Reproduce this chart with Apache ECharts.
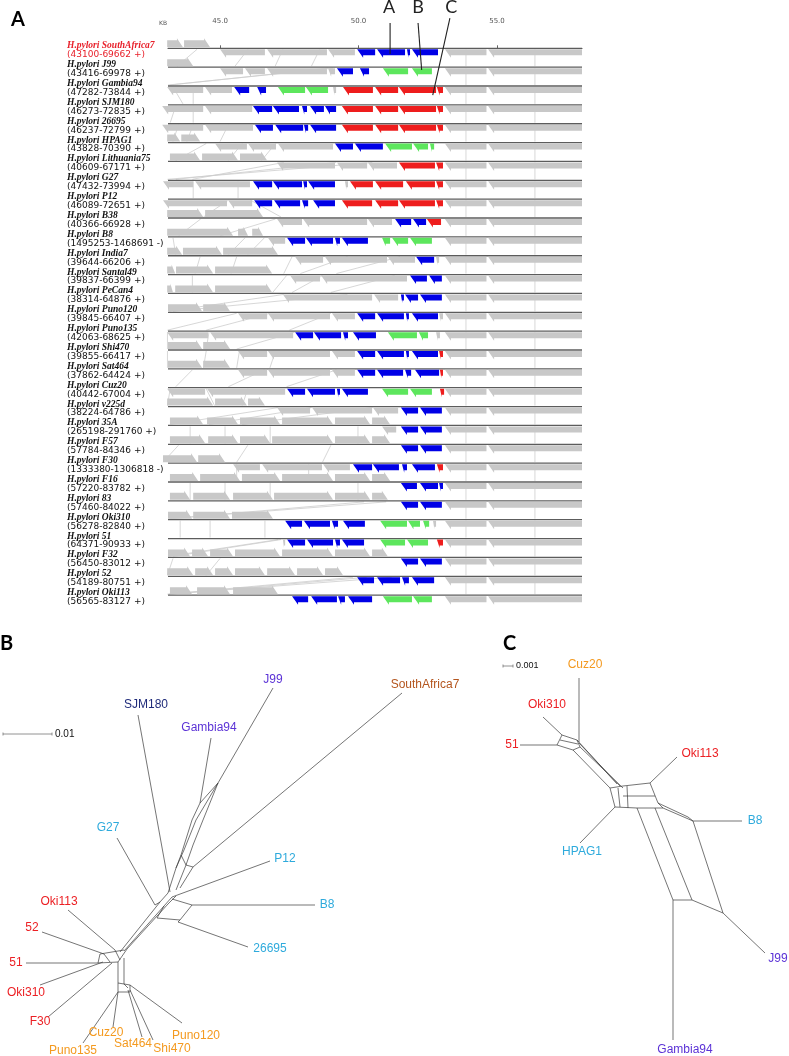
<!DOCTYPE html>
<html><head><meta charset="utf-8">
<script src="https://cdn.jsdelivr.net/npm/echarts@6/dist/echarts.min.js"></script>
<style>html,body{margin:0;padding:0;background:#fff}#c{width:789px;height:1056px}</style>
</head><body><div id="c"></div>
<script>
// ---------- Panel A data (positions in KB) ----------
const trackNames = ['SouthAfrica7','J99','Gambia94','SJM180','26695','HPAG1','Lithuania75','G27','P12','B38','B8','India7','Santal49','PeCan4','Puno120','Puno135','Shi470','Sat464','Cuz20','v225d','35A','F57','F30','F16','83','Oki310','51','F32','52','Oki113'];
const trackRanges = ['43100-69662 +','43416-69978 +','47282-73844 +','46273-72835 +','46237-72799 +','43828-70390 +','40609-67171 +','47432-73994 +','46089-72651 +','40366-66928 +','1495253-1468691 -','39644-66206 +','39837-66399 +','38314-64876 +','39845-66407 +','42063-68625 +','39855-66417 +','37862-64424 +','40442-67004 +','38224-64786 +','265198-291760 +','57784-84346 +','1333380-1306818 -','57220-83782 +','57460-84022 +','56278-82840 +','64371-90933 +','56450-83012 +','54189-80751 +','56565-83127 +'];
const tickValues = [45, 50, 55];
const kbRange = [43.12, 58.07];
const axisTitle = 'KB';

const grayAbove = [
 [[43.09,43.66],[43.70,44.64]],
 [[43.09,44.03]],
 [], [], [],
 [[43.09,43.56],[43.60,44.28]],
 [[43.19,44.28],[44.35,45.65],[45.72,46.70]],
 [], [],
 [[43.09,44.39],[44.46,46.55]],
 [[43.09,45.47],[45.65,46.01],[46.16,46.55]],
 [[43.09,43.63],[43.66,45.07],[45.11,47.09]],
 [[43.09,43.38],[43.41,44.75],[44.82,46.88]],
 [[43.09,43.30],[43.38,44.75],[44.82,46.88]],
 [[43.12,44.35],[44.39,45.36]],
 [],
 [[43.12,44.35],[44.39,45.36]],
 [[43.12,44.35],[44.39,45.36]],
 [],
 [[43.09,44.75],[44.82,45.97],[46.01,46.62]],
 [[43.19,44.39],[44.53,45.65],[45.72,47.17],[47.24,49.08],[49.15,50.42],[50.49,51.14]],
 [[43.19,44.46],[44.57,45.65],[45.72,46.81],[46.88,49.08],[49.15,50.42],[50.49,51.14]],
 [[42.94,44.17],[44.21,45.18]],
 [[43.19,44.21],[44.28,45.72],[45.79,47.17],[47.24,49.08],[49.15,50.42],[50.49,51.14]],
 [[43.19,43.92],[44.03,45.36],[45.47,46.91],[46.95,49.08],[49.15,50.42],[50.49,51.06]],
 [[43.12,43.99],[44.03,45.36],[45.43,46.91]],
 [],
 [[43.12,43.92],[43.99,44.57],[44.64,45.47],[45.54,47.17],[47.24,49.08],[49.15,50.42],[50.49,51.06]],
 [[43.09,44.03],[44.10,44.75],[44.82,45.47],[45.54,46.62],[46.70,47.71],[47.78,48.72],[48.79,49.44]],
 [[43.19,43.99],[44.17,45.36],[45.47,47.09]]
];
const grayBelow = [
 [[45.00,46.62],[46.70,48.86],[48.90,49.87]],
 [[45.00,45.83],[45.90,46.62],[46.70,48.86],[48.90,49.15]],
 [[43.09,44.39],[44.46,45.43],[49.08,49.19]],
 [[42.91,44.39],[44.46,46.16]],
 [[42.91,44.39],[44.46,46.19]],
 [[44.82,45.97],[46.01,47.02],[47.09,49.08]],
 [[47.06,49.15],[49.22,50.31],[50.34,51.39]],
 [[42.94,44.03],[44.10,46.08],[49.51,49.62]],
 [[42.94,45.25],[45.29,46.16]],
 [[47.06,47.96],[48.00,50.31],[50.34,51.21]],
 [[46.73,47.35]],
 [[47.71,48.72],[48.79,51.03],[51.06,52.04],[52.80,52.91]],
 [[47.53,48.61],[48.65,51.75]],
 [[47.27,50.49],[50.56,51.43]],
 [[45.65,46.70],[46.73,48.97],[49.04,49.87],[52.91,53.05]],
 [[43.09,44.57],[44.64,47.64],[52.80,52.94]],
 [[45.65,46.70],[46.73,48.97],[49.04,49.87]],
 [[45.65,46.70],[46.73,48.97],[49.04,49.87]],
 [[43.09,44.46],[44.53,47.35]],
 [[47.06,48.25],[48.32,50.49],[50.52,51.43]],
 [[50.85,51.36]],
 [],
 [[45.47,46.44],[46.52,48.68],[48.72,49.69]],
 [], [],
 [[52.69,52.80]],
 [[47.27,47.35]],
 [], [], []
];
const sharedRight = [[53.12,54.62],[54.68,58.07]];
const blueGenes = [
 [[49.95,50.60],[50.67,51.68],[51.75,51.86],[51.93,52.87]],
 [[49.22,49.80],[50.05,50.38]],
 [[45.51,46.05],[46.34,46.66]],
 [[46.19,46.88],[46.91,47.85],[47.96,48.14],[48.25,48.75],[48.79,49.19]],
 [[46.26,46.91],[46.99,48.00],[48.03,48.18],[48.25,49.19]],
 [[49.15,49.80],[49.87,50.88]],
 [],
 [[46.19,46.88],[46.91,47.96],[48.00,48.14],[48.18,49.15]],
 [[46.23,46.88],[46.95,47.89],[47.96,48.18],[48.36,49.15]],
 [[51.32,51.90],[51.97,52.44]],
 [[47.42,48.07],[48.10,49.08],[49.15,49.33],[49.40,50.34]],
 [[52.08,52.73]],
 [[51.86,52.47],[52.55,53.01]],
 [[51.53,51.64],[51.68,52.15],[52.22,53.01]],
 [[49.95,50.60],[50.67,51.64],[51.71,51.82],[51.93,52.87]],
 [[47.71,48.36],[48.39,49.37],[49.44,49.62],[49.80,50.63]],
 [[49.95,50.60],[50.67,51.64],[51.71,51.82],[51.93,52.87]],
 [[49.95,50.60],[50.67,51.61],[51.68,51.90],[52.04,52.91]],
 [[47.42,48.07],[48.14,49.15],[49.22,49.33],[49.40,50.34]],
 [[51.53,52.15],[52.22,53.01]],
 [[51.53,52.15],[52.22,53.01]],
 [[51.53,52.15],[52.22,53.01]],
 [[49.80,50.49],[50.52,51.46],[51.57,51.75],[51.93,52.76]],
 [[51.53,52.11],[52.22,52.87],[52.91,53.05]],
 [[51.53,52.15],[52.22,53.01]],
 [[47.35,47.96],[48.03,48.97],[49.04,49.26],[49.44,50.23]],
 [[47.42,48.07],[48.14,49.08],[49.15,49.33],[49.40,50.20]],
 [[51.53,52.15],[52.22,53.01]],
 [[49.95,50.56],[50.67,51.50],[51.57,51.82],[51.93,52.73]],
 [[47.60,48.18],[48.29,49.22],[49.26,49.51],[49.62,50.49]]
];
const greenGenes = [
 [],
 [[50.88,51.79],[51.93,52.65]],
 [[47.09,48.07],[48.10,48.90]],
 [], [],
 [[50.96,51.93],[51.97,52.51],[52.58,52.73]],
 [], [], [], [],
 [[50.85,51.14],[51.21,51.79],[51.86,52.65]],
 [], [], [], [],
 [[51.06,52.11],[52.18,52.51]],
 [], [],
 [[50.85,51.79],[51.86,52.65]],
 [], [], [], [], [], [],
 [[50.78,51.75],[51.79,52.22],[52.33,52.55]],
 [[50.78,51.68],[51.75,52.51]],
 [], [],
 [[50.88,51.93],[51.97,52.65]]
];
const redGenes = [
 [], [],
 [[49.44,50.52],[50.60,51.43],[51.46,52.80],[52.83,53.05]],
 [[49.40,50.52],[50.60,51.43],[51.46,52.80],[52.83,53.05]],
 [[49.40,50.52],[50.60,51.43],[51.46,52.80],[52.83,53.05]],
 [],
 [[51.46,52.76],[52.80,53.05]],
 [[49.69,50.52],[50.60,51.61],[51.71,52.76],[52.80,53.05]],
 [[49.40,50.49],[50.60,51.43],[51.46,52.76],[52.80,53.05]],
 [[52.47,52.98]],
 [], [], [], [], [], [],
 [[52.91,53.05]],
 [[52.94,53.05]],
 [[52.94,53.09]],
 [], [], [],
 [[52.83,53.05]],
 [], [], [],
 [[52.83,53.05]],
 [], [], []
];
// homology links between neighbouring tracks: [kb on upper track, kb on lower track]
const gapLinks = [
 [[44.17,43.45],[46.01,45.54],[47.27,46.99],[48.6,48.3]],
 [[49.08,43.12],[48.90,43.20]],
 [[43.30,43.66],[44.03,44.03]],
 [[44.03,44.03],[43.4,43.2]],
 [[43.5,43.3],[44.03,43.8],[45.3,45.0]],
 [[44.5,43.4],[45.8,45.3],[47.0,46.5]],
 [[50.5,43.1],[49.2,43.4],[47.3,44.0]],
 [[44.03,44.03],[45.65,45.65]],
 [[45.3,44.4],[46.1,47.2]],
 [[44.3,43.5],[47.0,45.0]],
 [[43.3,43.4],[45.9,45.3],[46.6,46.0]],
 [[44.28,44.10],[45.60,45.40],[47.60,47.30],[49.60,47.90],[51.50,49.20]],
 [[44.0,44.0],[47.4,46.9],[48.7,47.6],[51.3,49.0]],
 [[47.3,43.15],[49.6,43.3]],
 [[45.6,43.1],[46.8,44.5],[49.0,47.5]],
 [[43.1,43.1],[44.6,44.5],[47.7,45.6]],
 [[43.1,43.1],[44.5,44.4],[45.7,45.6],[47.0,46.8]],
 [[44.0,43.4],[46.6,45.3],[49.2,47.4]],
 [[43.2,43.1],[44.5,44.8],[46.0,45.8]],
 [[47.1,43.2],[48.3,44.6],[50.5,45.8]],
 [[43.92,43.92],[45.18,45.18],[46.81,46.81],[49.98,49.98]],
 [[43.5,42.94],[46.0,45.6],[49.0,48.7]],
 [[45.6,45.6],[48.2,48.2]],
 [[43.92,43.92],[45.18,45.18],[46.81,46.81],[49.98,49.98]],
 [[51.0,43.15],[50.2,43.2]],
 [[43.56,43.56],[44.64,44.64],[46.62,46.62]],
 [[47.1,43.12],[47.2,43.3]],
 [[43.3,43.1],[45.0,44.5]],
 [[49.8,43.1],[50.3,43.2],[51.2,43.15]]
];
const sharedLinks = [53.88, 56.37];
// callouts A/B/C: [kb, track position]
const annotLetters = ['A','B','C'];
const annotTop = [[51.14,-1.34],[52.15,-1.34],[53.30,-1.60]];
const annotTip = [[51.14,0.30],[52.28,1.15],[52.68,2.48]];
const annotLetterPos = [[51.10,-2.19],[52.15,-2.19],[53.35,-2.19]];

// ---------- Panel B data (network layout units) ----------
const bLeafNames = ['J99','SJM180','Gambia94','SouthAfrica7','G27','P12','B8','26695','Oki113','52','51','Oki310','F30','Puno135','Cuz20','Sat464','Shi470','Puno120'];
const bLeafGroups = ['purple','navy','purple','brown','cyan','cyan','cyan','cyan','red','red','red','red','red','orange','orange','orange','orange','orange'];
const bLabelPos = [[273,80],[146,105],[209,128],[425,85],[108,228],[285,259],[327,305],[270,349],[59,302],[32,328],[16,363],[26,393],[40,422],[73,451],[106,433],[133,444],[172,449],[196,436]];
const bEdges = [
 [[273,88],[218,183],[196,220],[184,250],[176,268]],
 [[211,138],[200,203],[192,220],[181,255]],
 [[200,203],[218,183]],
 [[218,183],[203,220],[193,245],[186,265]],
 [[138,115],[167,275],[170,292]],
 [[402,93],[193,267],[180,288]],
 [[176,268],[168,293]],
 [[181,255],[176,268]],
 [[186,265],[193,267]],
 [[181,255],[186,265]],
 [[186,265],[176,290]],
 [[168,293],[160,302],[120,352]],
 [[172,297],[164,306],[124,351]],
 [[176,296],[168,304],[127,349]],
 [[117,238],[155,305],[160,302]],
 [[270,261],[172,297]],
 [[315,305],[192,305],[172,299]],
 [[192,305],[180,320],[157,318],[164,306]],
 [[248,347],[178,322],[180,320]],
 [[68,310],[115,350]],
 [[42,332],[104,354]],
 [[26,363],[98,363]],
 [[40,385],[103,362]],
 [[48,417],[112,363]],
 [[98,363],[100,354],[124,350]],
 [[98,363],[118,362],[127,349]],
 [[104,354],[110,362]],
 [[115,350],[120,360]],
 [[118,362],[118,383],[118,392]],
 [[124,358],[124,384]],
 [[118,383],[130,385],[130,392],[118,392]],
 [[124,384],[128,388]],
 [[83,443],[118,392]],
 [[113,427],[118,392]],
 [[142,437],[128,390]],
 [[153,440],[130,390]],
 [[182,423],[130,385]]
];
const bScaleBar = [[3,134],[52,134]];
const bScaleText = '0.01';

// ---------- Panel C data ----------
const cLeafNames = ['Cuz20','Oki310','51','Oki113','B8','HPAG1','J99','Gambia94'];
const cLeafGroups = ['orange','red','red','red','cyan','cyan','purple','purple'];
const cLabelPos = [[95,65],[57,105],[22,145],[210,154],[265,221],[92,252],[288,359],[195,450]];
const cEdges = [
 [[89,78],[89,142]],
 [[53,117],[72,135]],
 [[30,145],[67,145]],
 [[72,135],[87,140],[90,147],[83,150],[67,145],[72,135]],
 [[70,140],[88,144]],
 [[87,140],[127,184]],
 [[89,143],[130,186]],
 [[90,147],[133,188]],
 [[83,150],[120,188]],
 [[90,243],[125,207]],
 [[120,188],[133,186],[160,183],[168,203],[173,208],[147,208],[125,207],[120,188]],
 [[128,188],[130,207]],
 [[137,186],[138,208]],
 [[133,196],[165,196]],
 [[187,157],[160,183]],
 [[252,221],[203,221]],
 [[173,208],[203,221]],
 [[168,203],[198,217]],
 [[147,208],[183,300]],
 [[165,208],[202,300]],
 [[198,217],[203,221],[233,313]],
 [[183,300],[202,300],[233,313]],
 [[183,300],[183,440]],
 [[233,313],[275,353]]
];
const cScaleBar = [[13,66],[23,66]];
const cScaleText = '0.001';

const groupColors = {purple:'#5b32d6', navy:'#1f2b7a', brown:'#b4561f', cyan:'#2eaadc', red:'#ec2024', orange:'#f49a20'};
const geneColors = {gray:'#c8c8c8', blue:'#0000e6', green:'#5de65d', red:'#ee1d1d'};

// ---------- drawing helpers ----------
function belowPts(x1, x2, y) {
  const d = Math.min(6, (x2 - x1) * 0.45);
  const t = y + 1, b = y + 7;
  return [[x1, t], [x2, t], [x2, b], [x1 + d, b], [x1 + d, b + 2.5]];
}
function abovePts(x1, x2, y) {
  const d = Math.min(6, (x2 - x1) * 0.45);
  const t = y - 8, b = y - 1;
  return [[x1, t], [x2 - d, t], [x2 - d, t - 2], [x2, b], [x1, b]];
}

function renderTrack(params, api) {
  const i = params.dataIndex;
  const p0 = api.coord([kbRange[0], i]);
  const yb = p0[1], xL = p0[0];
  const xR = api.coord([kbRange[1], i])[0];
  const X = v => api.coord([v, i])[0];
  const ch = [];
  ch.push({type: 'line', shape: {x1: xL, y1: yb, x2: xR, y2: yb}, style: {stroke: '#5c5c5c', lineWidth: 1.3}});
  grayAbove[i].forEach(([s, e]) => ch.push({type: 'polygon', shape: {points: abovePts(X(s), X(e), yb)}, style: {fill: geneColors.gray}}));
  grayBelow[i].concat(sharedRight).forEach(([s, e]) => ch.push({type: 'polygon', shape: {points: belowPts(X(s), X(e), yb)}, style: {fill: geneColors.gray}}));
  blueGenes[i].forEach(([s, e]) => ch.push({type: 'polygon', shape: {points: belowPts(X(s), X(e), yb)}, style: {fill: geneColors.blue}}));
  greenGenes[i].forEach(([s, e]) => ch.push({type: 'polygon', shape: {points: belowPts(X(s), X(e), yb)}, style: {fill: geneColors.green}}));
  redGenes[i].forEach(([s, e]) => ch.push({type: 'polygon', shape: {points: belowPts(X(s), X(e), yb)}, style: {fill: geneColors.red}}));
  const lc = i === 0 ? '#e8202a' : '#111';
  ch.push({type: 'text', style: {text: 'H.pylori ' + trackNames[i], x: xL - 101, y: yb - 2.5, font: 'italic bold 9.5px "Liberation Serif"', fill: lc, align: 'left', verticalAlign: 'middle'}});
  ch.push({type: 'text', style: {text: '(' + trackRanges[i] + ')', x: xL - 101, y: yb + 6.5, font: '9px "DejaVu Sans"', fill: lc, align: 'left', verticalAlign: 'middle'}});
  if (i === 0) {
    const top = api.coord([kbRange[0], -1.13]);
    ch.push({type: 'text', style: {text: axisTitle, x: top[0] - 1, y: top[1] - 1, font: '6px "DejaVu Sans"', fill: '#555', align: 'right', verticalAlign: 'bottom'}});
  }
  return {type: 'group', children: ch};
}

function renderLinks(params, api) {
  const g = params.dataIndex;
  const ch = [];
  const links = gapLinks[g].concat(sharedLinks.map(v => [v, v]));
  links.forEach(([a, b]) => {
    const p1 = api.coord([a, g]), p2 = api.coord([b, g + 1]);
    ch.push({type: 'line', shape: {x1: p1[0], y1: p1[1] + 1, x2: p2[0], y2: p2[1] - 1}, style: {stroke: '#cdcdcd', lineWidth: 0.8}});
  });
  return {type: 'group', children: ch};
}

function renderAnnot(params, api) {
  const k = params.dataIndex;
  const a = api.coord(annotTop[k]), b = api.coord(annotTip[k]), t = api.coord(annotLetterPos[k]);
  return {type: 'group', children: [
    {type: 'line', shape: {x1: a[0], y1: a[1], x2: b[0], y2: b[1]}, style: {stroke: '#222', lineWidth: 1.1}},
    {type: 'text', style: {text: annotLetters[k], x: t[0], y: t[1], font: '18px Lato', fill: '#222', align: 'center', verticalAlign: 'middle'}}
  ]};
}

function edgeRenderer(edges) {
  return function (params, api) {
    const pts = edges[params.dataIndex].map(p => api.coord(p));
    return {type: 'polyline', shape: {points: pts}, style: {stroke: '#3a3a3a', lineWidth: 0.7, fill: null}};
  };
}
function labelRenderer(names, groups, pos) {
  return function (params, api) {
    const k = params.dataIndex;
    const p = api.coord(pos[k]);
    return {type: 'text', style: {text: names[k], x: p[0], y: p[1], font: '12px "Liberation Sans"', fill: groupColors[groups[k]], align: 'center', verticalAlign: 'middle'}};
  };
}
function scaleRenderer(bar, txt, fs) {
  return function (params, api) {
    const a = api.coord(bar[0]), b = api.coord(bar[1]);
    return {type: 'group', children: [
      {type: 'line', shape: {x1: a[0], y1: a[1], x2: b[0], y2: b[1]}, style: {stroke: '#777', lineWidth: 0.8}},
      {type: 'line', shape: {x1: a[0], y1: a[1] - 1.5, x2: a[0], y2: a[1] + 1.5}, style: {stroke: '#777', lineWidth: 0.8}},
      {type: 'line', shape: {x1: b[0], y1: b[1] - 1.5, x2: b[0], y2: b[1] + 1.5}, style: {stroke: '#777', lineWidth: 0.8}},
      {type: 'text', style: {text: txt, x: b[0] + 3, y: b[1], font: fs + 'px "Liberation Sans"', fill: '#111', align: 'left', verticalAlign: 'middle'}}
    ]};
  };
}

const chart = echarts.init(document.getElementById('c'));
chart.setOption({
  animation: false,
  backgroundColor: '#fff',
  grid: [
    {left: 168, top: 27, width: 414, height: 587},
    {left: 0, top: 600, width: 420, height: 456},
    {left: 490, top: 600, width: 299, height: 456}
  ],
  xAxis: [
    {gridIndex: 0, type: 'value', position: 'top', min: kbRange[0], max: kbRange[1],
     axisLine: {show: true, lineStyle: {color: '#444', width: 1}},
     axisTick: {show: true, customValues: tickValues, length: 3, lineStyle: {color: '#666'}},
     axisLabel: {show: true, customValues: tickValues, formatter: v => v.toFixed(1), fontSize: 7, color: '#555', margin: 2, fontFamily: 'DejaVu Sans'},
     splitLine: {show: false}},
    {gridIndex: 1, type: 'value', min: 0, max: 420, show: false},
    {gridIndex: 2, type: 'value', min: 0, max: 299, show: false}
  ],
  yAxis: [
    {gridIndex: 0, type: 'value', min: -1.13, max: 30, inverse: true, show: false},
    {gridIndex: 1, type: 'value', min: 0, max: 456, inverse: true, show: false},
    {gridIndex: 2, type: 'value', min: 0, max: 456, inverse: true, show: false}
  ],
  graphic: [
    {type: 'text', left: 11, top: 10, style: {text: 'A', font: 'bold 20px Lato', fill: '#000'}},
    {type: 'text', left: 0, top: 634, style: {text: 'B', font: 'bold 20px Lato', fill: '#000'}},
    {type: 'text', left: 503, top: 634, style: {text: 'C', font: 'bold 20px Lato', fill: '#000'}}
  ],
  series: [
    {type: 'custom', xAxisIndex: 0, yAxisIndex: 0, clip: false, renderItem: renderLinks, data: gapLinks.map((_, g) => [kbRange[0], g])},
    {type: 'custom', xAxisIndex: 0, yAxisIndex: 0, clip: false, renderItem: renderTrack, data: trackNames.map((_, i) => [kbRange[0], i])},
    {type: 'custom', xAxisIndex: 0, yAxisIndex: 0, clip: false, renderItem: renderAnnot, data: annotTip},
    {type: 'custom', xAxisIndex: 1, yAxisIndex: 1, clip: false, renderItem: edgeRenderer(bEdges), data: bEdges.map(e => e[0])},
    {type: 'custom', xAxisIndex: 1, yAxisIndex: 1, clip: false, renderItem: labelRenderer(bLeafNames, bLeafGroups, bLabelPos), data: bLabelPos},
    {type: 'custom', xAxisIndex: 1, yAxisIndex: 1, clip: false, renderItem: scaleRenderer(bScaleBar, bScaleText, 10), data: [bScaleBar[0]]},
    {type: 'custom', xAxisIndex: 2, yAxisIndex: 2, clip: false, renderItem: edgeRenderer(cEdges), data: cEdges.map(e => e[0])},
    {type: 'custom', xAxisIndex: 2, yAxisIndex: 2, clip: false, renderItem: labelRenderer(cLeafNames, cLeafGroups, cLabelPos), data: cLabelPos},
    {type: 'custom', xAxisIndex: 2, yAxisIndex: 2, clip: false, renderItem: scaleRenderer(cScaleBar, cScaleText, 9), data: [cScaleBar[0]]}
  ]
});
</script>
</body></html>
